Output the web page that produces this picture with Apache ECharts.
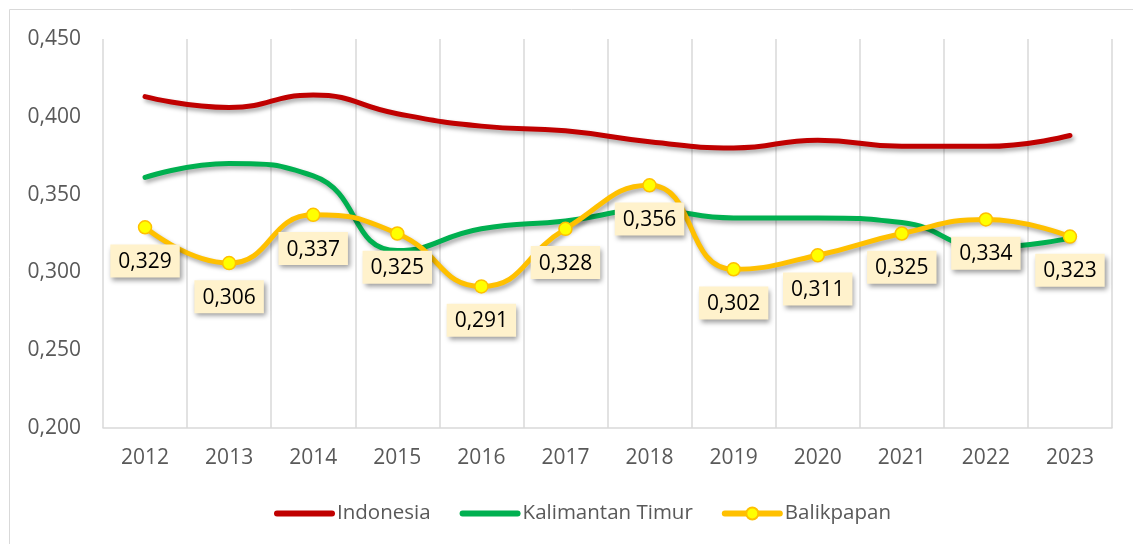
<!DOCTYPE html>
<html>
<head>
<meta charset="utf-8">
<script src="https://cdn.jsdelivr.net/npm/echarts@6/dist/echarts.min.js"></script>
<style>
  html, body { margin: 0; padding: 0; background: #fff; }
  #main { width: 1133px; height: 544px; }
</style>
</head>
<body>
<div id="main"></div>
<script>
var years = ["2012", "2013", "2014", "2015", "2016", "2017", "2018", "2019", "2020", "2021", "2022", "2023"];
var indonesia = [0.413, 0.406, 0.414, 0.402, 0.394, 0.391, 0.384, 0.380, 0.385, 0.381, 0.381, 0.388];
var kaltim = [0.361, 0.370, 0.362, 0.314, 0.328, 0.333, 0.340, 0.335, 0.335, 0.332, 0.316, 0.322];
var balikpapan = [0.329, 0.306, 0.337, 0.325, 0.291, 0.328, 0.356, 0.302, 0.311, 0.325, 0.334, 0.323];

var fontFam = "'Open Sans', 'Noto Sans', sans-serif";

function fmt(v) {
  return v.toFixed(3).replace(".", ",");
}

var myChart = echarts.init(document.getElementById("main"));

var lineShadow = {
  shadowColor: "rgba(0,0,0,0.35)",
  shadowBlur: 4,
  shadowOffsetX: 2,
  shadowOffsetY: 3,
};

var option = {
  animation: false,
  textStyle: { fontFamily: fontFam },
  graphic: [
    {
      type: "rect",
      shape: { x: 9.5, y: 9.5, width: 1140, height: 560 },
      style: { fill: null, stroke: "#D9D9D9", lineWidth: 1 },
      silent: true,
    },
  ],
  grid: {
    left: 103,
    right: 21,
    top: 39,
    bottom: 116,
  },
  legend: {
    bottom: 15,
    left: 269,
    itemWidth: 55,
    itemHeight: 15,
    itemGap: 29,
    lineStyle: { width: 6, cap: "round" },
    textStyle: { color: "#595959", fontSize: 20.5, fontFamily: fontFam },
    data: [
      { name: "Indonesia", itemStyle: { opacity: 0 } },
      { name: "Kalimantan Timur", itemStyle: { opacity: 0 } },
      { name: "Balikpapan" },
    ],
  },
  xAxis: {
    type: "category",
    data: years,
    boundaryGap: true,
    axisTick: { show: false },
    axisLine: { lineStyle: { color: "#D9D9D9", width: 1.5 } },
    axisLabel: { color: "#595959", fontSize: 21, margin: 20 },
    splitLine: { show: true, lineStyle: { color: "#D9D9D9", width: 1.5 } },
  },
  yAxis: {
    type: "value",
    min: 0.2,
    max: 0.45,
    interval: 0.05,
    axisLine: { show: false },
    axisTick: { show: false },
    splitLine: { show: false },
    axisLabel: {
      color: "#595959",
      fontSize: 21,
      margin: 22,
      formatter: function (v) {
        return fmt(v);
      },
    },
  },
  series: [
    {
      name: "Indonesia",
      type: "line",
      data: indonesia,
      smooth: 0.5,
      symbol: "none",
      color: "#C00000",
      lineStyle: Object.assign({ width: 5, color: "#C00000", cap: "round" }, lineShadow),
    },
    {
      name: "Kalimantan Timur",
      type: "line",
      data: kaltim,
      smooth: 0.5,
      symbol: "none",
      color: "#00B050",
      lineStyle: Object.assign({ width: 5, color: "#00B050", cap: "round" }, lineShadow),
    },
    {
      name: "Balikpapan",
      type: "line",
      data: balikpapan,
      smooth: 0.5,
      symbol: "circle",
      symbolSize: 13,
      color: "#FFC000",
      lineStyle: Object.assign({ width: 5, color: "#FFC000", cap: "round" }, lineShadow),
      itemStyle: { color: "#FFFF00", borderColor: "#FFC000", borderWidth: 1.5 },
      label: {
        show: true,
        position: "bottom",
        distance: 10,
        color: "#000",
        fontSize: 21,
        fontFamily: fontFam,
        backgroundColor: "#FFF2CC",
        padding: [7, 8, 5, 8],
        shadowColor: "rgba(0,0,0,0.4)",
        shadowBlur: 5,
        shadowOffsetX: 2,
        shadowOffsetY: 3,
        formatter: function (p) {
          return fmt(p.value);
        },
      },
      z: 5,
    },
  ],
};

myChart.setOption(option);
</script>
</body>
</html>
